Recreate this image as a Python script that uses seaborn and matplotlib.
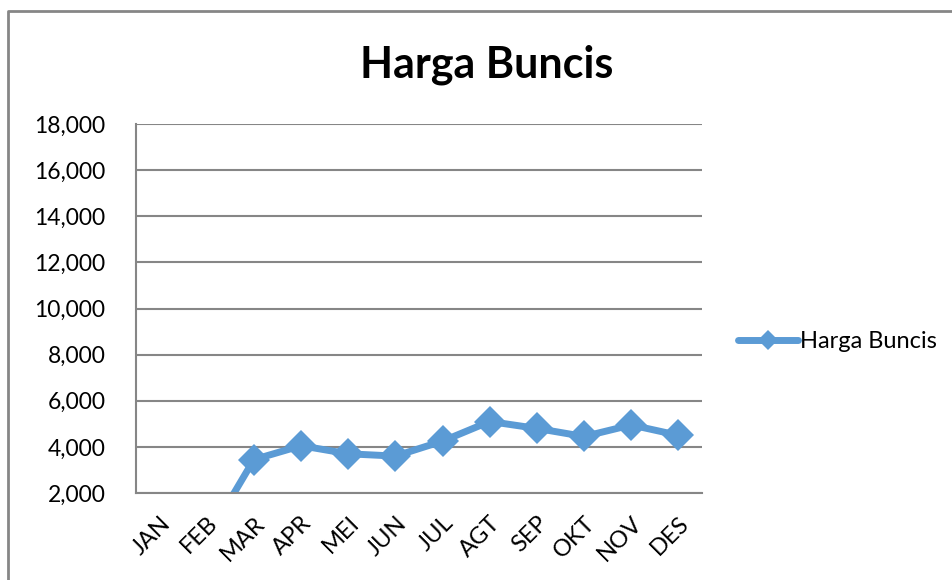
import pandas as pd
import numpy as np
import matplotlib.pyplot as plt
import seaborn as sns
from matplotlib.lines import Line2D
from matplotlib.ticker import FuncFormatter, FixedLocator

# data (JAN/FEB sit below the 2,000 floor)
bulan = ['JAN', 'FEB', 'MAR', 'APR', 'MEI', 'JUN', 'JUL', 'AGT', 'SEP', 'OKT', 'NOV', 'DES']
harga = [0, 0, 3450, 4050, 3700, 3600, 4250, 5100, 4800, 4450, 4950, 4500]
y_ticks = [2000, 4000, 6000, 8000, 10000, 12000, 14000, 16000, 18000]

df = pd.DataFrame({'bulan': bulan, 'harga': harga})

sns.set_style('white')
plt.rcParams['font.family'] = ['Lato', 'DejaVu Sans']
plt.rcParams['text.color'] = 'black'
plt.rcParams['xtick.labelcolor'] = 'black'
plt.rcParams['ytick.labelcolor'] = 'black'

blue = '#5B9BD5'
grey = '#868686'

fig = plt.figure(figsize=(9.52, 5.8), dpi=100)
ax = fig.add_axes([136 / 952, 1 - 493 / 580, (702 - 136) / 952, (493 - 124) / 580])

sns.lineplot(ax=ax, data=df, x='bulan', y='harga', sort=False, color=blue,
             linewidth=5, marker='D', markersize=16, markeredgewidth=0,
             solid_capstyle='round', solid_joinstyle='round')

ax.set_ylim(2000, 18000)
ax.set_xlim(-0.5, len(bulan) - 0.5)
ax.set_yticks(y_ticks)
ax.yaxis.set_major_formatter(FuncFormatter(lambda v, p: f'{int(v):,}'))
ax.grid(axis='y', color=grey, linewidth=1.5)
ax.grid(axis='x', visible=False)
ax.set_axisbelow(True)

# category labels in the middle, tick marks between categories
ax.set_xticks(range(len(bulan)))
ax.set_xticklabels(bulan, rotation=45, ha='right', va='top', rotation_mode='anchor')
ax.xaxis.set_minor_locator(FixedLocator(np.arange(-0.5, len(bulan), 1.0)))
ax.tick_params(axis='x', which='major', length=0, pad=14, labelsize=17)
ax.tick_params(axis='x', which='minor', length=6, width=1.5, color=grey, direction='out')
ax.tick_params(axis='y', length=7, width=1.5, color=grey, direction='out', labelsize=16.5, pad=15)
ax.set_xlabel('')
ax.set_ylabel('')

for s in ['top', 'right']:
    ax.spines[s].set_visible(False)
for s in ['left', 'bottom']:
    ax.spines[s].set_color(grey)
    ax.spines[s].set_linewidth(1.5)

fig.text(487 / 952, 1 - 65 / 580, 'Harga Buncis', ha='center', va='center',
         fontsize=31, fontweight='bold', color='black')

handle = Line2D([], [], color=blue, linewidth=5, marker='D', markersize=10,
                markeredgewidth=0, solid_capstyle='round')
fig.legend(handles=[handle], labels=['Harga Buncis'], loc='center left',
           bbox_to_anchor=(738 / 952, 1 - 342 / 580), frameon=False, fontsize=17,
           handlelength=2.55, handletextpad=0.08, borderpad=0, borderaxespad=0)

# chart area border (only the top and left edges fall inside the picture)
fig.add_artist(Line2D([8 / 952, 8 / 952, 1.0], [0.0, 1 - 11 / 580, 1 - 11 / 580],
                      transform=fig.transFigure, color=grey, linewidth=2))

fig.savefig('out.png', dpi=100)
